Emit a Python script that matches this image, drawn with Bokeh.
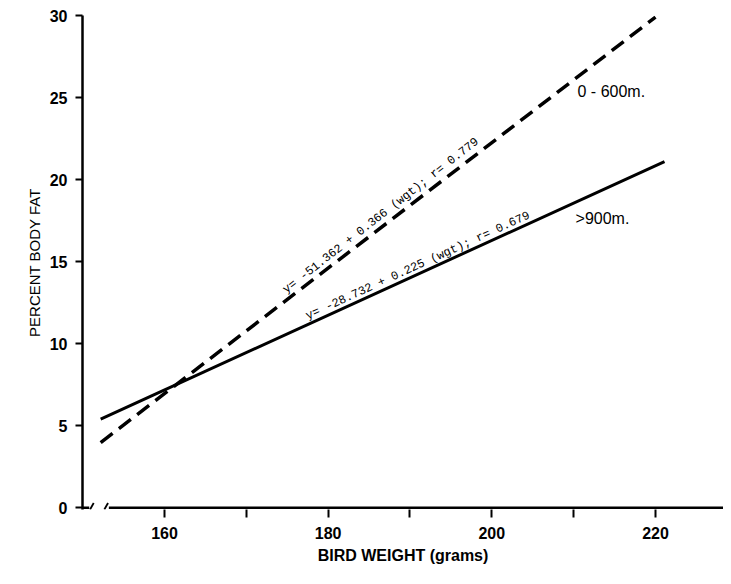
from bokeh.plotting import figure
from bokeh.models import Range1d, FixedTicker
from bokeh.core.properties import value
from bokeh.embed import file_html
from bokeh.resources import INLINE

# ---- data ----
# regression lines (end points, bird weight in grams vs percent body fat)
low_weight = [152.2, 220.0]     # 0 - 600 m (dashed)
low_fat = [3.98, 29.9]
high_weight = [152.2, 221.1]    # > 900 m (solid)
high_fat = [5.41, 21.1]

eq_texts = ["y= -51.362 + 0.366 (wgt);  r= 0.779",
            "y= -28.732 + 0.225 (wgt);  r= 0.679"]
group_labels = ["0 - 600m.", ">900m."]

x_major_ticks = [160, 180, 200, 220]
x_minor_ticks = [170, 190, 210]
y_ticks = [0, 5, 10, 15, 20, 25, 30]

x_title = "BIRD WEIGHT (grams)"
y_title = "PERCENT BODY FAT"

# ---- annotation placement (data units) ----
X_START, X_END = 149.98, 228.31
Y_START, Y_END = -0.1, 30
eq_x = [174.66, 177.35]
eq_y = [13.2, 11.65]
eq_angle = [38.0, 24.5]
grp_x = [210.47, 210.23]
grp_y = [25.37, 17.62]
BREAK_LEFT, BREAK_RIGHT = 150.8, 153.2
slash_centers = [151.1, 152.85]

p = figure(width=723, height=568, output_backend="svg", toolbar_location=None,
           x_range=Range1d(X_START, X_END), y_range=Range1d(Y_START, Y_END),
           min_border_left=82, min_border_right=0, min_border_top=15,
           min_border_bottom=59)
p.outline_line_color = None
p.grid.visible = False
p.background_fill_color = "white"
p.border_fill_color = "white"

# y axis
ya = p.yaxis[0]
ya.ticker = FixedTicker(ticks=y_ticks, minor_ticks=[])
ya.axis_line_width = 2.5
ya.axis_line_color = "black"
ya.major_tick_line_width = 2
ya.major_tick_line_color = "black"
ya.major_tick_in = 0
ya.major_tick_out = 7
ya.minor_tick_out = 0
ya.minor_tick_in = 0
ya.major_label_standoff = 8
ya.major_label_text_font = "Liberation Sans"
ya.major_label_text_font_style = "bold"
ya.major_label_text_font_size = "16px"
ya.major_label_text_color = "black"
ya.axis_label = y_title
ya.axis_label_text_font = "Liberation Sans"
ya.axis_label_text_font_style = "normal"
ya.axis_label_text_font_size = "15px"
ya.axis_label_text_color = "black"
ya.axis_label_standoff = 4

# x axis (line drawn separately to show the axis break)
xa = p.xaxis[0]
xa.ticker = FixedTicker(ticks=x_major_ticks, minor_ticks=x_minor_ticks)
xa.axis_line_color = None
xa.major_tick_line_width = 2
xa.minor_tick_line_width = 2
xa.major_tick_line_color = "black"
xa.minor_tick_line_color = "black"
xa.major_tick_in = 0
xa.minor_tick_in = 0
xa.major_tick_out = 8
xa.minor_tick_out = 8
xa.major_label_standoff = 9
xa.major_label_text_font = "Liberation Sans"
xa.major_label_text_font_style = "bold"
xa.major_label_text_font_size = "16px"
xa.major_label_text_color = "black"
xa.axis_label = x_title
xa.axis_label_text_font = "Liberation Sans"
xa.axis_label_text_font_style = "bold"
xa.axis_label_text_font_size = "16px"
xa.axis_label_text_color = "black"
xa.axis_label_standoff = 5

# broken x-axis line
p.segment(x0=[X_START, BREAK_RIGHT], y0=[0, 0], x1=[BREAK_LEFT, X_END], y1=[0, 0],
          line_color="black", line_width=2.5)
p.segment(x0=[c - 0.2 for c in slash_centers], y0=[Y_START] * 2,
          x1=[c + 0.25 for c in slash_centers], y1=[0.3] * 2,
          line_color="black", line_width=1.8)

# regression lines
p.line(low_weight, low_fat, line_color="black", line_width=3.5, line_dash="15 8")
p.line(high_weight, high_fat, line_color="black", line_width=3)

# equations along the lines
p.text(x=eq_x, y=eq_y, text=eq_texts, angle=eq_angle, angle_units="deg",
       text_font=value("Liberation Mono"), text_font_size="12px",
       text_align="left", text_baseline="alphabetic", text_color="black")

# group labels
p.text(x=grp_x, y=grp_y, text=group_labels,
       text_font=value("Liberation Sans"), text_font_size="16px",
       text_align="left", text_baseline="middle", text_color="black")

open("out.html", "w").write(file_html(p, INLINE))
